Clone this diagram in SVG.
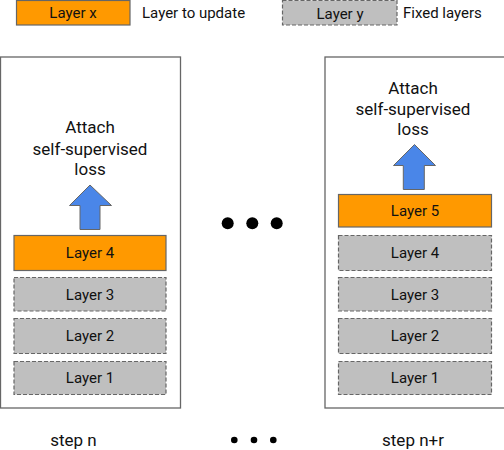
<svg xmlns="http://www.w3.org/2000/svg" width="504" height="450" viewBox="0 0 504 450">
<style>
text{font-family:Roboto,"Liberation Sans",sans-serif;fill:#111;text-anchor:middle;dominant-baseline:central}
.lbl{font-size:15px}
.big{font-size:17px}
.upd{fill:#ff9900;stroke:#666;stroke-width:1.2}
.fix{fill:#bfbfbf;stroke:#666;stroke-width:1.2;stroke-dasharray:4,2}
.box{fill:#fff;stroke:#666;stroke-width:1.3}
.arr{fill:#4a86e8;stroke:#666;stroke-width:1}
</style>
<g id="legend">
<rect class="upd" x="16.5" y="0.5" width="113.5" height="24.5"/>
<text class="lbl" x="73" y="13">Layer x</text>
<text class="lbl" x="142" y="13" style="text-anchor:start">Layer to update</text>
<rect class="fix" x="282.5" y="0.5" width="114.5" height="24.5"/>
<text class="lbl" x="340" y="13.5">Layer y</text>
<text class="lbl" x="403" y="13" style="text-anchor:start">Fixed layers</text>
</g>
<g id="step-n">
<rect class="box" x="0.5" y="57" width="180" height="351"/>
<text class="big" x="90" y="127">Attach</text>
<text class="big" x="90" y="148.5">self-supervised</text>
<text class="big" x="90" y="168.5">loss</text>
<path class="arr" d="M90 185 L111.5 205.5 L100 205.5 L100 229.5 L80 229.5 L80 205.5 L69.5 205.5 Z"/>
<rect class="upd" x="14" y="235.5" width="152" height="35"/>
<text class="lbl" x="90" y="253">Layer 4</text>
<rect class="fix" x="14" y="277.5" width="152" height="33.5"/>
<text class="lbl" x="90" y="294.5">Layer 3</text>
<rect class="fix" x="14" y="318.5" width="152" height="35"/>
<text class="lbl" x="90" y="336">Layer 2</text>
<rect class="fix" x="14" y="361.5" width="152" height="33"/>
<text class="lbl" x="90" y="378">Layer 1</text>
<text class="big" x="73.5" y="440">step n</text>
</g>
<g id="step-nr">
<rect class="box" x="325" y="57" width="200" height="351"/>
<text class="big" x="413" y="87.5">Attach</text>
<text class="big" x="413" y="108.5">self-supervised</text>
<text class="big" x="413" y="129">loss</text>
<path class="arr" d="M414.5 144.5 L435.5 165.5 L424.3 165.5 L424.3 189.5 L403.3 189.5 L403.3 165.5 L393.5 165.5 Z"/>
<rect class="upd" x="338.5" y="194.5" width="153" height="32.5"/>
<text class="lbl" x="415" y="211">Layer 5</text>
<rect class="fix" x="338.5" y="235.5" width="153" height="35"/>
<text class="lbl" x="415" y="253">Layer 4</text>
<rect class="fix" x="338.5" y="277.5" width="153" height="33.5"/>
<text class="lbl" x="415" y="294.5">Layer 3</text>
<rect class="fix" x="338.5" y="318.5" width="153" height="35"/>
<text class="lbl" x="415" y="336">Layer 2</text>
<rect class="fix" x="338.5" y="361.5" width="153" height="33"/>
<text class="lbl" x="415" y="378">Layer 1</text>
<text class="big" x="413" y="440">step n+r</text>
</g>
<g id="dots">
<circle cx="227.7" cy="223.3" r="6" fill="#000"/>
<circle cx="252.3" cy="223.3" r="6" fill="#000"/>
<circle cx="276.7" cy="223.3" r="6" fill="#000"/>
<circle cx="234.3" cy="440" r="3.3" fill="#000"/>
<circle cx="254" cy="440" r="3.3" fill="#000"/>
<circle cx="273.3" cy="440" r="3.3" fill="#000"/>
</g>
<g id="connectors"></g>
</svg>
